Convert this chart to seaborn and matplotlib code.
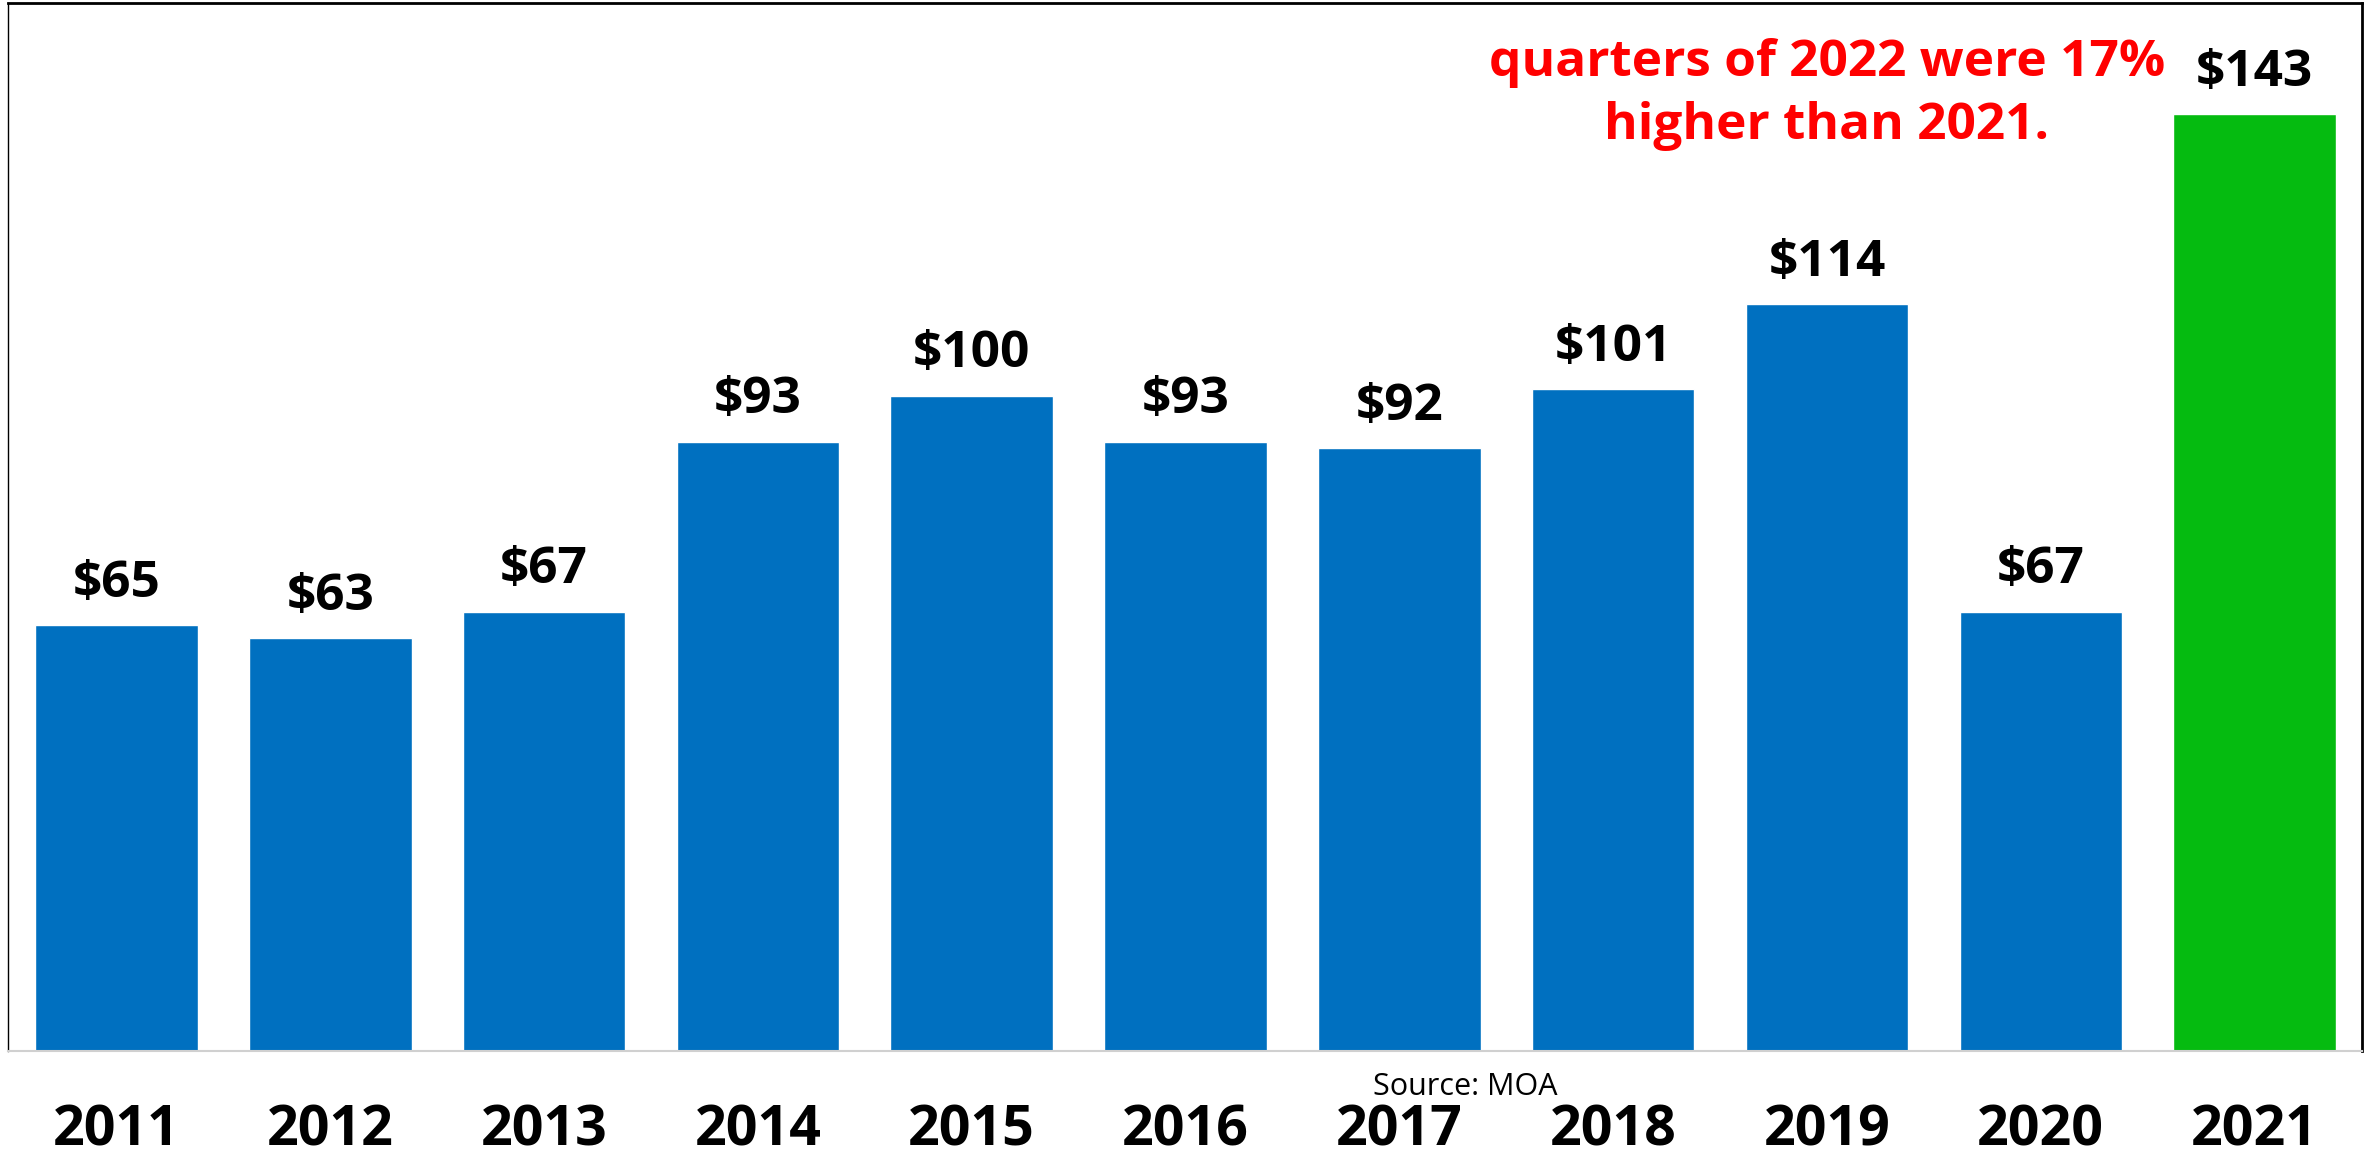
import matplotlib
matplotlib.use("Agg")
import matplotlib.pyplot as plt
import seaborn as sns
import pandas as pd

# values
years = ["2011", "2012", "2013", "2014", "2015", "2016",
         "2017", "2018", "2019", "2020", "2021"]
values = [65, 63, 67, 93, 100, 93, 92, 101, 114, 67, 143]
bar_colors = ["#0070C0"] * 10 + ["#05BB10"]
note_lines = ["quarters of 2022 were 17%", "higher than 2021."]
source_text = "Source: MOA"

sns.set_style("white")
plt.rcParams["font.family"] = ["Open Sans", "DejaVu Sans"]
plt.rcParams["text.color"] = "black"
plt.rcParams["xtick.color"] = "black"

df = pd.DataFrame({"year": years, "value": values})

fig = plt.figure(figsize=(23.74, 11.59), dpi=100)
ax = fig.add_axes([0.0034, 0.0932, 0.9916, 0.9042])

sns.barplot(data=df, x="year", y="value", hue="year",
            palette=dict(zip(years, bar_colors)), width=0.76,
            saturation=1, legend=False, ax=ax)

ax.set_ylim(0, 160)
ax.set_xlim(-0.507, 10.503)
ax.set_xlabel("")
ax.set_ylabel("")
ax.set_yticks([])

# value labels on top of bars
for cont in ax.containers:
    ax.bar_label(cont, labels=[f"${v:.0f}" for v in cont.datavalues],
                 padding=12, fontsize=37, fontweight="bold", color="black")

ax.tick_params(axis="x", length=0, pad=38, labelcolor="black")
for lab in ax.get_xticklabels():
    lab.set_fontsize(40)
    lab.set_fontweight("bold")

for side in ["left", "top", "right"]:
    ax.spines[side].set_visible(True)
    ax.spines[side].set_color("black")
ax.spines["left"].set_linewidth(1.0)
ax.spines["top"].set_linewidth(2.0)
ax.spines["right"].set_linewidth(2.0)
ax.spines["bottom"].set_color("#D0D0D0")
ax.spines["bottom"].set_linewidth(1.5)

# red annotation (its first line is cut off in the source image)
ax.text(8.0, 146.0, "\n".join(note_lines), ha="center", va="center",
        fontsize=37, fontweight="bold", color="red", linespacing=1.35)

fig.text(0.617, 1 - 1087 / 1159, source_text, ha="center", va="center",
         fontsize=22, color="black")

fig.savefig("out.png", dpi=100)
